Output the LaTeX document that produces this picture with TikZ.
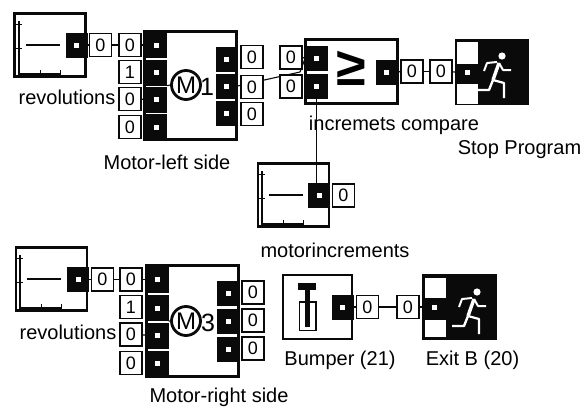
\documentclass[tikz,border=0pt]{standalone}
\usepackage{fontspec}
\setmainfont{Liberation Sans}
\usepackage{xcolor}
\definecolor{blockblack}{RGB}{10, 10, 10}
\usepackage{tikz}
\usetikzlibrary{positioning}

\tikzset{
    blockbox/.style={draw=blockblack, line width=2.6pt, fill=white, inner sep=0pt},
    blackbox/.style={draw=blockblack, line width=2pt, fill=blockblack, inner sep=0pt},
    port/.style={fill=blockblack, inner sep=0pt, minimum width=22pt, minimum height=25pt,
        path picture={\fill[white] ([xshift=-2.5pt,yshift=-2.5pt]path picture bounding box.center) rectangle ++(5pt,5pt);}},
    valbox/.style={draw=blockblack, line width=1.2pt, fill=white, inner sep=0pt, minimum width=22pt, minimum height=23pt, font=\fontsize{18}{20}\selectfont},
    patch/.style={fill=white, inner sep=0pt, minimum width=21pt, minimum height=20pt},
    lbl/.style={inner sep=0pt, font=\fontsize{20}{22}\selectfont},
    wire/.style={line width=1.1pt, blockblack},
    motorsym/.style={draw=blockblack, circle, line width=2.8pt, fill=white, minimum size=29pt, inner sep=0pt, font=\fontsize{24}{24}\selectfont},
    sensorplot/.pic={
        \draw[line width=1.2pt, blockblack] (5,8) -- (5,61) -- (47,61);
        \draw[line width=1pt, blockblack] (2,11) -- (8,11) (2,35) -- (8,35) (26,57) -- (26,63) (46,57) -- (46,63);
        \draw[line width=1.2pt, blockblack] (12,32) -- (46,32);
    },
    runner/.pic={
        \fill[white] (12,-16) circle (3.6pt);
        \draw[white, line width=3.4pt, line join=round] (9,-9) -- (3,8);
        \draw[white, line width=2pt, line join=round] (7,-10) -- (-3,-9) -- (-6,-1);
        \draw[white, line width=2pt, line join=round] (9,-9) -- (13,-2) -- (21,-2);
        \draw[white, line width=2.4pt, line join=round] (3,8) -- (-1,18) -- (-13,18);
        \draw[white, line width=2.2pt, line join=round] (3,8) -- (14,11) -- (14,26);
    }
}

\begin{document}
\begin{tikzpicture}[x=1pt, y=-1pt]
    \useasboundingbox (0,0) rectangle (584,410);

    % wires first, the boxes sit on top of them
    \coordinate (bend) at (300,72);

    % upper motor row
    \node[blockbox, minimum width=71pt, minimum height=63pt] (sensA) at (50,45) {};
    \pic at (14,13) {sensorplot};
    \node[port] (sensAout) at (76.5,45) {};
    \node[valbox] (valA) at (100.5,45) {0};
    \node[valbox] (valB) at (130,45) {0};
    \node[valbox] (valC) at (130,72) {1};
    \node[valbox] (valD) at (130,99) {0};
    \node[valbox] (valE) at (130,127) {0};
    \node[lbl] (revA) at (67,97) {revolutions};

    \node[blockbox, minimum width=92pt, minimum height=108pt] (motorL) at (190.5,85.5) {};
    \node[port, minimum height=26pt] (mlA) at (156,45) {};
    \node[port, minimum height=26pt] (mlB) at (156,72.5) {};
    \node[port, minimum height=26pt] (mlC) at (156,99.5) {};
    \node[port, minimum height=26pt] (mlD) at (156,127) {};
    \node[port] (mrA) at (226.5,59) {};
    \node[port] (mrB) at (226.5,86) {};
    \node[port] (mrC) at (226.5,113) {};
    \node[motorsym] (symL) at (186,85) {M};
    \node[lbl, font=\fontsize{25}{25}\selectfont] (numL) at (207,87) {1};
    \draw[wire] (symL.west) -- (mlB.south east);
    \node[lbl] (nameL) at (167,162) {Motor-left side};

    \draw[wire] (sensAout) -- (valA);
    \draw[wire] (valA) -- (valB);
    \draw[wire] (valB) -- (mlA);
    \draw[wire] (valD) -- (mlC);
    \node[valbox] (valF) at (252,57) {0};
    \draw[wire] (mrB.east) -- (bend);
    \node[valbox] (valG) at (252,87) {0};
    \node[valbox] (valH) at (252,114) {0};

    % compare block and stop
    \node[blockbox, minimum width=92pt, minimum height=64pt] (cmp) at (351.5,71.5) {};
    \node[font=\bfseries\fontsize{54}{54}\selectfont, inner sep=0pt] (cmpsym) at (351,68) {≥};
    \node[port] (cmpA) at (316.5,58) {};
    \node[port] (cmpB) at (316.5,86) {};
    \node[port] (cmpOut) at (386.5,72) {};
    \node[valbox] (valI) at (291,57.5) {0};
    \node[valbox] (valJ) at (291,86.5) {0};
    \node[valbox] (valK) at (412,71.5) {0};
    \node[valbox] (valL) at (441,71.5) {0};
    \node[blackbox, minimum width=72pt, minimum height=64pt] (stop) at (492,72) {};
    \node[patch, minimum height=22pt] (stopA) at (467.5,53) {};
    \node[patch] (stopB) at (467.5,94) {};
    \pic at (490,72) {runner};
    \node[inner sep=0pt, minimum size=5pt, fill=white] (stopIn) at (467,72) {};
    \draw[wire] (bend) -- (cmpA.west);
    \draw[wire] (valI) -- (cmpA);
    \draw[wire] (cmpOut) -- (valK);
    \draw[wire] (valK) -- (valL);
    \draw[wire] (valL) -- (stop.west);
    \node[lbl] (nameCmp) at (394,125) {incremets compare};
    \node[lbl] (nameStop) at (519.5,150) {Stop Program};

    % motor increments
    \node[blockbox, minimum width=71pt, minimum height=63pt] (sensC) at (293.5,195) {};
    \pic at (257,163) {sensorplot};
    \node[port] (sensCout) at (319,195.5) {};
    \node[valbox] (valM) at (343.5,195.5) {0};
    \draw[wire] (cmpB.south) -- (cmpB.south |- sensCout.north);
    \node[lbl] (nameInc) at (335,250) {motorincrements};

    % lower motor row
    \node[blockbox, minimum width=71pt, minimum height=63pt] (sensB) at (51.5,279) {};
    \pic at (15,247) {sensorplot};
    \node[port] (sensBout) at (78,279.5) {};
    \node[valbox] (valN) at (102.5,279.5) {0};
    \node[valbox] (valO) at (131,279.5) {0};
    \node[valbox] (valP) at (131,307) {1};
    \node[valbox] (valQ) at (131,334.5) {0};
    \node[valbox] (valR) at (131,363) {0};
    \node[lbl] (revB) at (68,332) {revolutions};

    \node[blockbox, minimum width=92pt, minimum height=111pt] (motorR) at (192.5,321) {};
    \node[port, minimum height=27pt] (mmA) at (157.5,279.5) {};
    \node[port, minimum height=26pt] (mmB) at (157.5,308) {};
    \node[port, minimum height=26pt] (mmC) at (157.5,335.5) {};
    \node[port, minimum height=26pt] (mmD) at (157.5,363.5) {};
    \node[port] (nrA) at (228,293) {};
    \node[port] (nrB) at (228,321) {};
    \node[port] (nrC) at (228,349) {};
    \node[motorsym] (symR) at (186,321) {M};
    \node[lbl, font=\fontsize{25}{25}\selectfont] (numR) at (208,323) {3};
    \draw[wire] (symR.west) -- (mmB.south east);
    \node[lbl] (nameR) at (219,397) {Motor-right side};

    \draw[wire] (sensBout) -- (valN);
    \draw[wire] (valN) -- (valO);
    \draw[wire] (valO) -- (mmA);
    \draw[wire] (valQ) -- (mmC);
    \node[valbox] (valS) at (253,292.5) {0};
    \node[valbox] (valT) at (253,320.5) {0};
    \node[valbox] (valU) at (253,348.5) {0};

    % bumper and exit
    \node[blockbox, minimum width=69pt, minimum height=64pt] (bump) at (317.5,307) {};
    \fill[blockblack] (298,283) rectangle (316,290);
    \draw[line width=1.2pt, blockblack] (299.5,302) rectangle (316,330.5);
    \fill[blockblack] (305,290) rectangle (310,327);
    \node[port] (bumpOut) at (342.5,307) {};
    \node[valbox] (valV) at (367.5,307) {0};
    \node[valbox] (valW) at (408,307) {0};
    \node[blackbox, minimum width=73pt, minimum height=64pt] (exit) at (459.5,307) {};
    \node[patch] (exitA) at (435,288) {};
    \node[patch, minimum height=17pt] (exitB) at (435,328.5) {};
    \pic at (465,308) {runner};
    \node[inner sep=0pt, minimum size=5pt, fill=white] (exitIn) at (434,307) {};
    \draw[wire] (bumpOut) -- (valV);
    \draw[wire] (valV) -- (valW);
    \draw[wire] (valW) -- (exit.west);
    \node[lbl] (nameBump) at (340,360) {Bumper (21)};
    \node[lbl] (nameExit) at (472.5,360) {Exit B (20)};
\end{tikzpicture}
\end{document}
